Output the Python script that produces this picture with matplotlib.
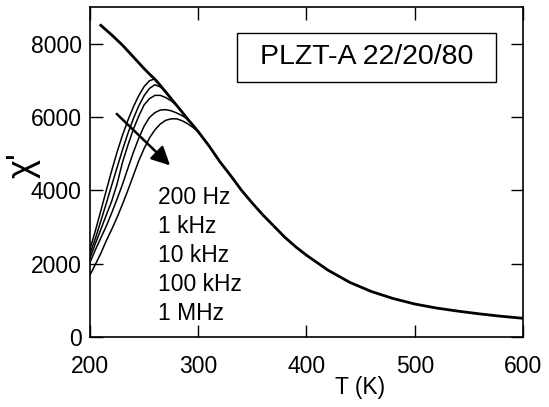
import numpy as np
import matplotlib
matplotlib.use("Agg")
import matplotlib.pyplot as plt
from matplotlib.patches import Rectangle

plt.rcParams['font.family'] = ['Liberation Sans', 'DejaVu Sans']

# high-temperature envelope (all frequencies coincide)
T_env = [210, 220, 230, 240, 250, 255, 260, 265, 270, 275, 280, 285, 290, 295, 300,
         310, 320, 330, 340, 350, 360, 370, 380, 390, 400, 420, 440, 460, 480,
         500, 520, 540, 560, 580, 600]
chi_env = [8500, 8240, 7960, 7640, 7320, 7170, 7030, 6860, 6680, 6500, 6320, 6140, 5950, 5780, 5600,
           5210, 4780, 4400, 4000, 3650, 3320, 3020, 2720, 2460, 2230, 1820, 1490, 1240, 1050,
           900, 790, 705, 630, 565, 510]

# low-temperature dispersion, one curve per measuring frequency
freqs = ["200 Hz", "1 kHz", "10 kHz", "100 kHz", "1 MHz"]
T_f = [
    [200, 205, 210, 215, 220, 225, 230, 235, 240, 245, 250, 255, 260, 265],
    [200, 205, 210, 215, 220, 225, 230, 235, 240, 245, 250, 255, 260, 265, 270],
    [200, 205, 210, 215, 220, 225, 230, 235, 240, 245, 250, 255, 260, 265, 270, 275, 280],
    [200, 205, 210, 215, 220, 225, 230, 235, 240, 245, 250, 255, 260, 265, 270, 275, 280, 285, 290],
    [200, 205, 210, 215, 220, 225, 230, 235, 240, 245, 250, 255, 260, 265, 270, 275, 280, 285, 290, 295, 300],
]
chi_f = [
    [2400, 2900, 3440, 3990, 4530, 5040, 5500, 5910, 6270, 6580, 6830, 6990, 7040, 6860],
    [2270, 2690, 3160, 3640, 4130, 4620, 5100, 5550, 5950, 6300, 6580, 6780, 6880, 6820, 6680],
    [2150, 2550, 2930, 3320, 3700, 4170, 4760, 5230, 5660, 6020, 6330, 6500, 6590, 6590, 6530, 6440, 6320],
    [2030, 2380, 2700, 3020, 3380, 3760, 4160, 4600, 5030, 5420, 5750, 5990, 6120, 6190, 6200, 6170, 6110, 6040, 5950],
    [1690, 1980, 2280, 2620, 2930, 3260, 3620, 4000, 4400, 4800, 5140, 5430, 5650, 5810, 5910, 5950, 5950, 5900, 5820, 5720, 5600],
]

fig = plt.figure(figsize=(5.49, 4.07), dpi=100)
ax = fig.add_axes([0.1639, 0.172, 0.7887, 0.8108])

for T, chi in zip(T_f, chi_f):
    ax.plot(T, chi, color='black', lw=1.1)
ax.plot(T_env, chi_env, color='black', lw=2.0)

ax.set_xlim(200, 600)
ax.set_ylim(0, 9000)
ax.set_xticks([200, 300, 400, 500, 600])
ax.set_yticks([0, 2000, 4000, 6000, 8000])
ax.tick_params(direction='in', length=9, width=1, labelsize=16.5,
               top=True, right=True)
ax.tick_params(axis='x', pad=13)
ax.tick_params(axis='y', pad=6)
for s in ax.spines.values():
    s.set_linewidth(1.2)

ax.set_xlabel("T (K)", fontsize=16.5, labelpad=0)
ax.xaxis.set_label_coords(0.624, -0.118)
ax.set_ylabel("χ'", fontsize=26)
ax.yaxis.set_label_coords(-0.115, 0.52)

# frequency arrow
ax.annotate("", xy=(274, 4680), xytext=(224.7, 6085),
            arrowprops=dict(arrowstyle='-|>', lw=1.8, color='black',
                            mutation_scale=28, shrinkA=0, shrinkB=0))

for i, f in enumerate(freqs):
    ax.text(0.157, 0.423 - i * 0.088, f, transform=ax.transAxes,
            fontsize=16.5, va='center', ha='left')

ax.add_patch(Rectangle((0.3395, 0.7727), 0.598, 0.1485, transform=ax.transAxes,
                       fill=False, ec='black', lw=1))
ax.text(0.6385, 0.847, "PLZT-A 22/20/80", transform=ax.transAxes,
        fontsize=20.5, ha='center', va='center')

fig.savefig("out.png", dpi=100)
